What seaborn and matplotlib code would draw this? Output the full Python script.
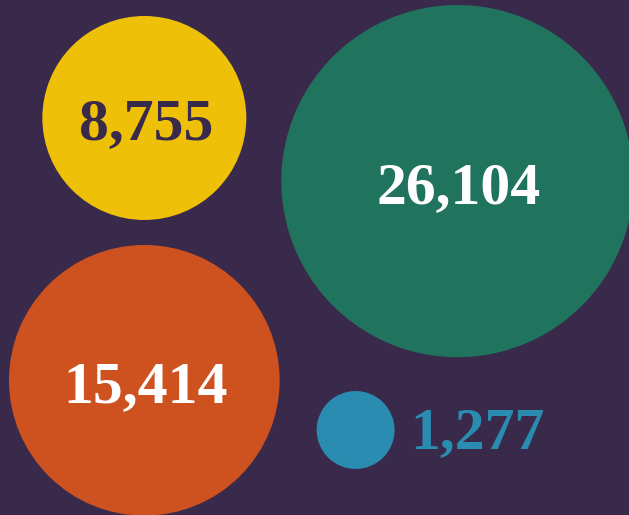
import seaborn as sns
import matplotlib.pyplot as plt
import pandas as pd
import numpy as np

# data
labels = ['8,755', '26,104', '15,414', '1,277']
values = [8755, 26104, 15414, 1277]
colors = ['#efc008', '#20735c', '#ce5120', '#2b8cb2']
text_colors = ['#392a4b', '#ffffff', '#ffffff', '#2b8cb2']

bg = '#392a4b'
W, H = 629, 515

# radius in pixels, area proportional to value
k = 1.09
r = k * np.sqrt(np.array(values, dtype=float))
ry, rg, ro, rb = r

# simple hand layout: two columns, gaps between circles
left_x = 9 + ro
cx = [left_x, left_x + ry + 35 + rg, left_x, left_x + ro + 37 + rb]
cy = [16 + ry, 5 + rg, 16 + 2 * ry + 25 + ro, 430]

df = pd.DataFrame({'label': labels, 'value': values, 'x': cx, 'y': cy})

fig = plt.figure(figsize=(W / 100, H / 100), dpi=100, facecolor=bg)
ax = fig.add_axes([0, 0, 1, 1])
ax.set_facecolor(bg)

# marker area in pt^2 proportional to value
c = (2 * k * 72 / 100) ** 2
sns.scatterplot(data=df, x='x', y='y', hue='label', palette=dict(zip(labels, colors)),
                size='value', sizes=(c * min(values), c * max(values)),
                linewidth=0, legend=False, ax=ax)

ax.set_xlim(0, W)
ax.set_ylim(H, 0)
ax.set_axis_off()

font = dict(family='Liberation Serif', fontweight='bold', fontsize=43)
for i, row in df.iterrows():
    if i == 3:
        # small bubble: label sits to the right
        ax.annotate(row['label'], (row['x'], row['y']), xytext=(rb * 0.72 + 11, -13),
                    textcoords='offset points', ha='left', va='baseline',
                    color=text_colors[i], **font)
    else:
        ax.annotate(row['label'], (row['x'], row['y']), xytext=(1, -15.5),
                    textcoords='offset points', ha='center', va='baseline',
                    color=text_colors[i], **font)

fig.savefig('out.png', dpi=100, facecolor=bg)
